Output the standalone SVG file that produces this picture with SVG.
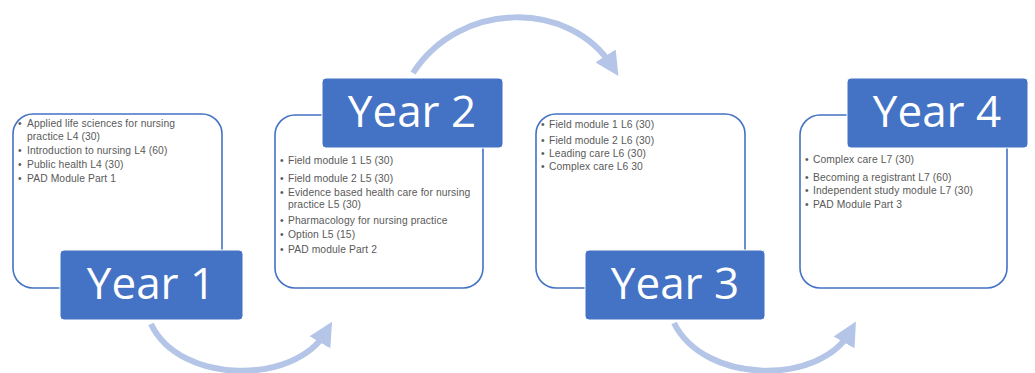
<svg xmlns="http://www.w3.org/2000/svg" width="1035" height="373" viewBox="0 0 1035 373">
<defs>
<style>
.box{fill:#fff;stroke:#4472c4;stroke-width:1.6}
.lab{fill:#4472c4;stroke:#fff;stroke-width:1}
.yt{font-family:"Open Sans","Liberation Sans",sans-serif;font-size:44px;fill:#fff;text-anchor:middle}
.t{font-family:"Liberation Sans",Arial,sans-serif;font-size:10.3px;fill:#5a5a5a;letter-spacing:0.1px}
.arc{fill:none;stroke:#b4c5e7;stroke-width:6}
</style>
<marker id="ah" markerWidth="4" markerHeight="4" refX="2" refY="2" orient="auto" markerUnits="strokeWidth">
<path d="M0,0 L4,2 L0,4 Z" fill="#b4c5e7"/>
</marker>
</defs>
<g id="connectors">
<path class="arc" d="M151,324 C180,385 295,385 326,332" marker-end="url(#ah)"/>
<path class="arc" d="M413,73 C460,0 570,0 612,66" marker-end="url(#ah)"/>
<path class="arc" d="M674,323 C705,385 820,385 850,332" marker-end="url(#ah)"/>
</g>
<g id="box1">
<rect class="box" x="13" y="114" width="209" height="174" rx="20"/>
<text class="t"><tspan x="18" y="127">•</tspan><tspan x="27" y="127">Applied life sciences for nursing</tspan><tspan x="27" y="140">practice L4 (30)</tspan><tspan x="18" y="154">•</tspan><tspan x="27" y="154">Introduction to nursing L4 (60)</tspan><tspan x="18" y="168">•</tspan><tspan x="27" y="168">Public health L4 (30)</tspan><tspan x="18" y="182">•</tspan><tspan x="27" y="182">PAD Module Part 1</tspan></text>
</g>
<g id="year1">
<rect class="lab" x="60" y="250" width="183" height="70" rx="4"/>
<text class="yt" x="151" y="299">Year 1</text>
</g>
<g id="box2">
<rect class="box" x="275" y="115" width="208" height="173" rx="20"/>
<text class="t"><tspan x="280" y="164">•</tspan><tspan x="288" y="164">Field module 1 L5 (30)</tspan><tspan x="280" y="182">•</tspan><tspan x="288" y="182">Field module 2 L5 (30)</tspan><tspan x="280" y="196">•</tspan><tspan x="288" y="196">Evidence based health care for nursing</tspan><tspan x="288" y="208">practice L5 (30)</tspan><tspan x="280" y="224">•</tspan><tspan x="288" y="224">Pharmacology for nursing practice</tspan><tspan x="280" y="238">•</tspan><tspan x="288" y="238">Option L5 (15)</tspan><tspan x="280" y="253">•</tspan><tspan x="288" y="253">PAD module Part 2</tspan></text>
</g>
<g id="year2">
<rect class="lab" x="322" y="78" width="181" height="70" rx="4"/>
<text class="yt" x="412" y="127">Year 2</text>
</g>
<g id="box3">
<rect class="box" x="536" y="114" width="209" height="174" rx="20"/>
<text class="t"><tspan x="541" y="128">•</tspan><tspan x="549" y="128">Field module 1  L6  (30)</tspan><tspan x="541" y="144">•</tspan><tspan x="549" y="144">Field module 2  L6  (30)</tspan><tspan x="541" y="157">•</tspan><tspan x="549" y="157">Leading care   L6 (30)</tspan><tspan x="541" y="170">•</tspan><tspan x="549" y="170">Complex care L6 30</tspan></text>
</g>
<g id="year3">
<rect class="lab" x="585" y="250" width="180" height="70" rx="4"/>
<text class="yt" x="675" y="299">Year 3</text>
</g>
<g id="box4">
<rect class="box" x="800" y="115" width="207" height="173" rx="20"/>
<text class="t"><tspan x="805" y="163">•</tspan><tspan x="813" y="163">Complex care L7 (30)</tspan><tspan x="805" y="181">•</tspan><tspan x="813" y="181">Becoming a registrant L7 (60)</tspan><tspan x="805" y="194">•</tspan><tspan x="813" y="194">Independent study module L7 (30)</tspan><tspan x="805" y="208">•</tspan><tspan x="813" y="208">PAD Module Part 3</tspan></text>
</g>
<g id="year4">
<rect class="lab" x="847" y="78" width="181" height="70" rx="4"/>
<text class="yt" x="937" y="127">Year 4</text>
</g>
</svg>
